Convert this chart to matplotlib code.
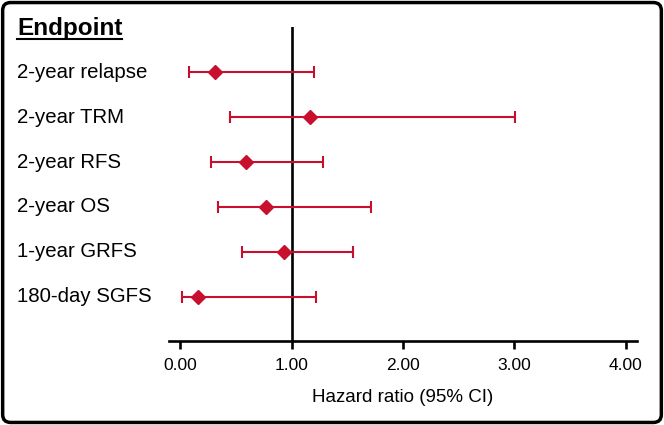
import matplotlib
matplotlib.use('Agg')
import matplotlib.pyplot as plt
import matplotlib.transforms as mtransforms
from matplotlib.patches import FancyBboxPatch
from matplotlib.lines import Line2D

# forest plot data (hazard ratio with 95% CI)
endpoints = ['2-year relapse', '2-year TRM', '2-year RFS', '2-year OS', '1-year GRFS', '180-day SGFS']
hr = [0.31, 1.17, 0.59, 0.77, 0.93, 0.16]
ci_low = [0.08, 0.45, 0.28, 0.34, 0.56, 0.02]
ci_high = [1.20, 3.01, 1.28, 1.71, 1.55, 1.22]
xticks = [0, 1, 2, 3, 4]
xtick_labels = ['0.00', '1.00', '2.00', '3.00', '4.00']

red = '#C8102E'
plt.rcParams['font.family'] = ['Liberation Sans', 'DejaVu Sans']

fig = plt.figure(figsize=(6.64, 4.25), dpi=100)
ax = fig.add_axes([0.2545, 0.198, 0.7045, 0.738])

rows = list(range(len(endpoints)))
err = [[h - lo for h, lo in zip(hr, ci_low)], [hi - h for h, hi in zip(hr, ci_high)]]
ax.axvline(1, color='black', lw=1.9, zorder=1)
ax.errorbar(hr, rows, xerr=err, fmt='D', color=red, ecolor=red, elinewidth=1.5,
            capsize=4.2, capthick=1.5, markersize=7, zorder=3)

ax.set_xlim(-0.1, 4.1)
ax.set_ylim(5.98, -1.0)
for s in ['top', 'right', 'left']:
    ax.spines[s].set_visible(False)
ax.spines['bottom'].set_linewidth(1.9)
ax.set_yticks([])
ax.set_xticks(xticks)
ax.set_xticklabels(xtick_labels, fontsize=12.5)
ax.tick_params(axis='x', length=6, width=1.9, pad=6)
ax.set_xlabel('Hazard ratio (95% CI)', fontsize=13.5, labelpad=12)

# endpoint labels on the left
trans = mtransforms.blended_transform_factory(fig.transFigure, ax.transData)
for i, name in enumerate(endpoints):
    ax.text(17 / 664, i, name, transform=trans, fontsize=14.7, va='center', ha='left')

head = ax.text(17 / 664, -0.98, 'Endpoint', transform=trans, fontsize=17.5,
               fontweight='bold', va='center', ha='left')

# underline the header
fig.canvas.draw()
bb = head.get_window_extent().transformed(fig.transFigure.inverted())
fig.add_artist(Line2D([bb.x0, bb.x1], [bb.y0 + 0.002, bb.y0 + 0.002],
                      transform=fig.transFigure, color='black', lw=1.5))

# rounded frame around the figure
frame = FancyBboxPatch((0.004, 0.006), 0.992, 0.988, transform=fig.transFigure,
                       boxstyle='round,pad=0,rounding_size=0.012',
                       mutation_aspect=664 / 425, fill=False, ec='black', lw=2.5)
fig.add_artist(frame)

fig.savefig('out.png', dpi=100)
